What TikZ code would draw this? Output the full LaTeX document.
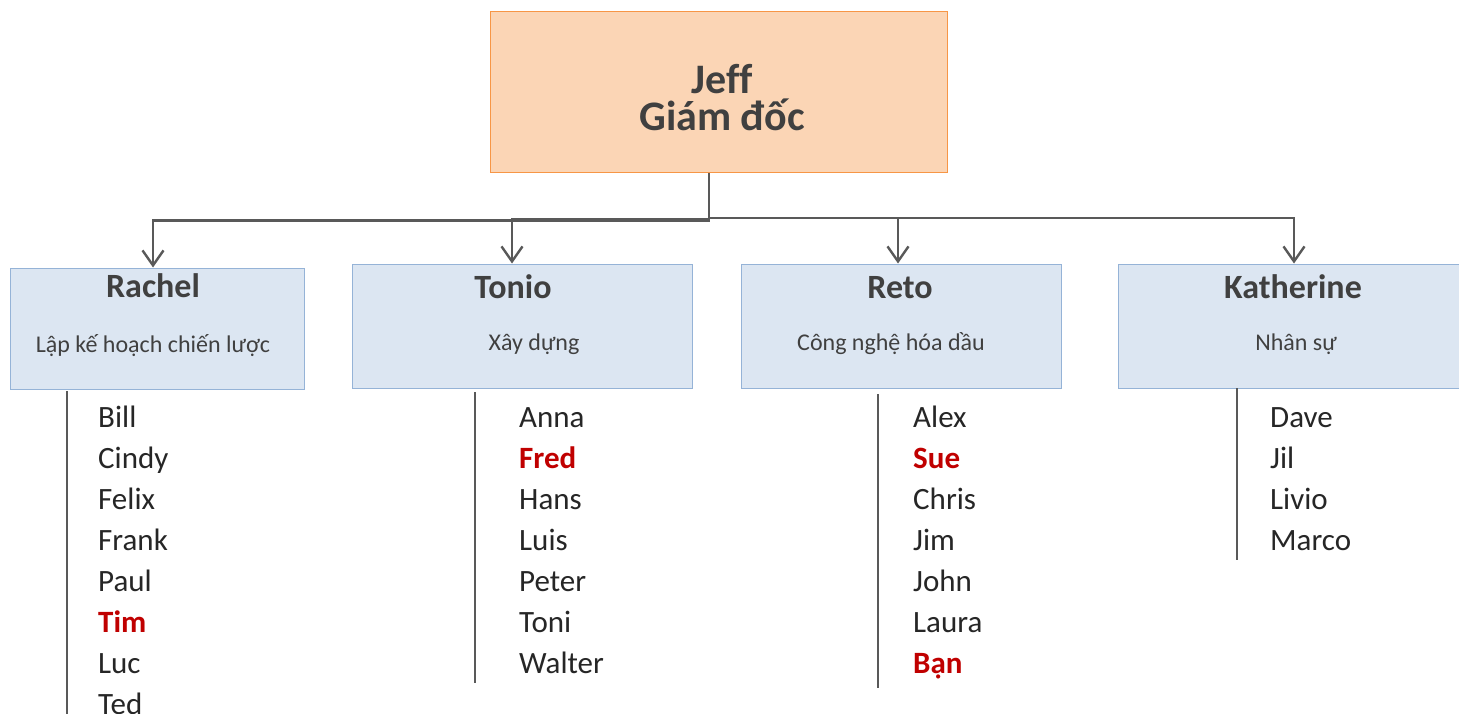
\documentclass[tikz,border=0pt]{standalone}
\usepackage{fontspec}
\setmainfont{Carlito}[Ligatures=CommonOff]
\usetikzlibrary{arrows.meta}
\definecolor{jefffill}{HTML}{FBD5B5}
\definecolor{jeffdraw}{HTML}{F79646}
\definecolor{bluefill}{HTML}{DCE6F2}
\definecolor{bluedraw}{HTML}{95B3D7}
\definecolor{linegray}{HTML}{595959}
\definecolor{boxtext}{HTML}{404040}
\definecolor{nametext}{HTML}{262626}
\definecolor{redname}{HTML}{C00000}
\tikzset{
  topbox/.style={draw=jeffdraw, fill=jefffill, line width=1pt, minimum width=457pt, minimum height=161pt, inner sep=0pt},
  deptbox/.style={draw=bluedraw, fill=bluefill, line width=1pt, inner sep=0pt},
  conn/.style={draw=linegray, line width=2.6pt, -{Straight Barb[length=15pt,width=21pt,line width=2.4pt]}},
  listline/.style={draw=linegray, line width=2.6pt},
  titletext/.style={font=\bfseries\fontsize{34}{40}\selectfont, text=boxtext, anchor=base, inner sep=0pt},
  subtext/.style={font=\fontsize{24}{29}\selectfont, text=boxtext, anchor=base, inner sep=0pt},
  nametxt/.style={font=\fontsize{31}{37}\selectfont, text=nametext, anchor=base west, inner sep=0pt},
  rednametxt/.style={font=\bfseries\fontsize{31}{37}\selectfont, text=redname, anchor=base west, inner sep=0pt},
}
\begin{document}
\begin{tikzpicture}[x=1pt,y=-1pt]
\clip (0,0) rectangle (1459,714);
\fill[white] (0,0) rectangle (1459,714);
% top box
\node[topbox] (jeff) at (718.5,92.5) {};
\node[font=\bfseries\fontsize{42}{37}\selectfont, text=boxtext, align=center, inner sep=0pt] (jefftext) at (722,98) {Jeff\\Giám đốc};
% department boxes
\node[deptbox, minimum width=294pt, minimum height=121pt] (rachel) at (157,328.5) {};
\node[deptbox, minimum width=340pt, minimum height=124pt] (tonio) at (522,326) {};
\node[deptbox, minimum width=320pt, minimum height=124pt] (reto) at (901,326) {};
\node[deptbox, minimum width=352pt, minimum height=124pt] (kath) at (1294,326) {};
% titles
\node[titletext] (rachelt) at (153,297) {Rachel};
\node[subtext] (rachels) at (153,352) {Lập kế hoạch chiến lược};
\node[titletext] (toniot) at (513,298) {Tonio};
\node[subtext] (tonios) at (534,350) {Xây dựng};
\node[titletext] (retot) at (900,298) {Reto};
\node[subtext] (retos) at (891,350) {Công nghệ hóa dầu};
\node[titletext] (katht) at (1293,298) {Katherine};
\node[subtext] (kaths) at (1296,350) {Nhân sự};
% connectors
\coordinate (hub) at ([xshift=-9.5pt]jeff.south);
\draw[conn] (hub) |- (153,220.5) -- ([xshift=-4pt]rachel.north);
\draw[conn] (hub) |- (512,219.5) -- ([xshift=-10pt]tonio.north);
\draw[conn] (hub) |- (898,218) -- ([xshift=-3pt]reto.north);
\draw[conn] (hub) |- (1294,218) -- (kath.north);
% list lines
\coordinate (rl1) at (67,391); \coordinate (rl2) at (67,716);
\draw[listline] (rl1) -- (rl2);
\coordinate (tl1) at (475,392); \coordinate (tl2) at (475,683);
\draw[listline] (tl1) -- (tl2);
\coordinate (el1) at (878,394); \coordinate (el2) at (878,688);
\draw[listline] (el1) -- (el2);
\coordinate (kl1) at (1237,388); \coordinate (kl2) at (1237,560);
\draw[listline] (kl1) -- (kl2);
% Rachel list
\node[nametxt] (r1) at (98,427) {Bill};
\node[nametxt] (r2) at (98,468) {Cindy};
\node[nametxt] (r3) at (98,509) {Felix};
\node[nametxt] (r4) at (98,550) {Frank};
\node[nametxt] (r5) at (98,591) {Paul};
\node[rednametxt] (r6) at (98,632) {Tim};
\node[nametxt] (r7) at (98,673) {Luc};
\node[nametxt] (r8) at (98,714) {Ted};
% Tonio list
\node[nametxt] (t1) at (519,427) {Anna};
\node[rednametxt] (t2) at (519,468) {Fred};
\node[nametxt] (t3) at (519,509) {Hans};
\node[nametxt] (t4) at (519,550) {Luis};
\node[nametxt] (t5) at (519,591) {Peter};
\node[nametxt] (t6) at (519,632) {Toni};
\node[nametxt] (t7) at (519,673) {Walter};
% Reto list
\node[nametxt] (e1) at (913,427) {Alex};
\node[rednametxt] (e2) at (913,468) {Sue};
\node[nametxt] (e3) at (913,509) {Chris};
\node[nametxt] (e4) at (913,550) {Jim};
\node[nametxt] (e5) at (913,591) {John};
\node[nametxt] (e6) at (913,632) {Laura};
\node[rednametxt] (e7) at (913,673) {Bạn};
% Katherine list
\node[nametxt] (k1) at (1270,427) {Dave};
\node[nametxt] (k2) at (1270,468) {Jil};
\node[nametxt] (k3) at (1270,509) {Livio};
\node[nametxt] (k4) at (1270,550) {Marco};
\end{tikzpicture}
\end{document}
